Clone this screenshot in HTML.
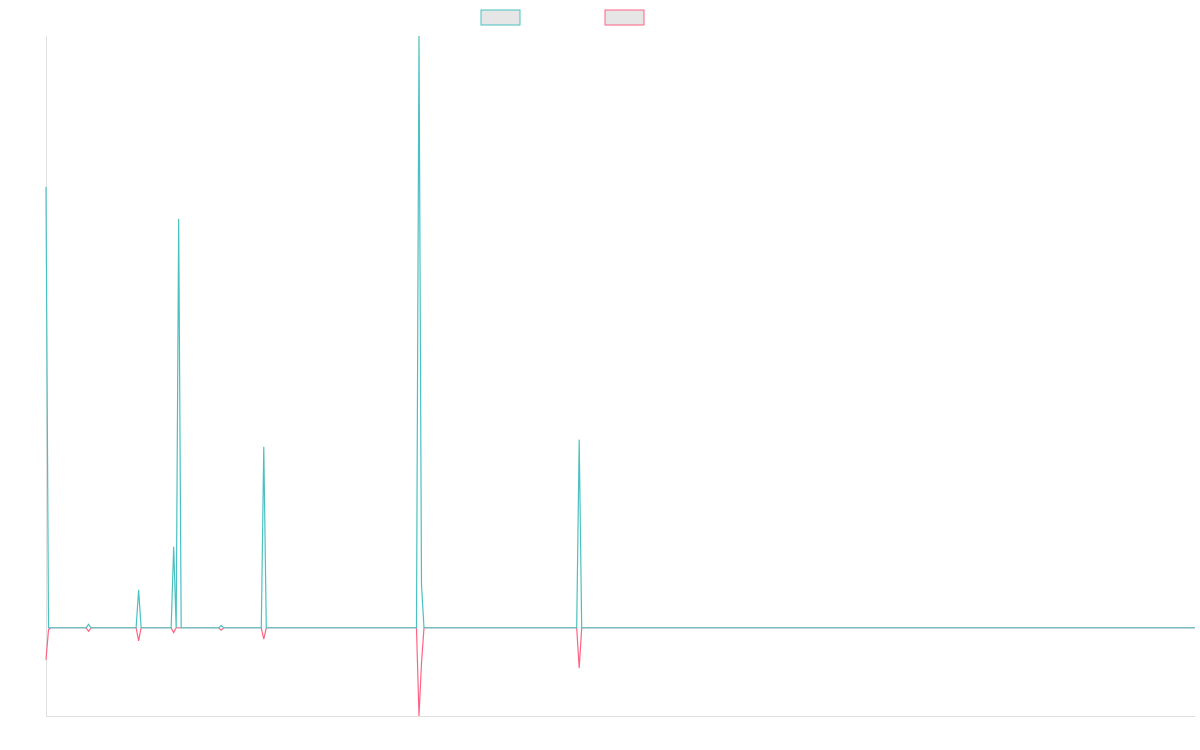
<!DOCTYPE html>
<html><head><meta charset="utf-8"><style>
html,body{margin:0;padding:0;background:#fff;width:1200px;height:750px;overflow:hidden;font-family:"Liberation Sans",sans-serif}
</style></head><body>
<svg id="chart" width="1200" height="750" xmlns="http://www.w3.org/2000/svg">
<rect x="481" y="10" width="39" height="15" fill="#e6e6e6" stroke="rgb(75,192,192)" stroke-width="1"/>
<rect x="605" y="10" width="39" height="15" fill="#e6e6e6" stroke="rgb(255,99,132)" stroke-width="1"/>
<line x1="46.5" y1="36" x2="46.5" y2="716" stroke="#e0e0e0"/>
<line x1="46" y1="716.5" x2="1195" y2="716.5" stroke="#e0e0e0"/>
<g id="series"></g>
</svg>
<script>
const pointCount = 460;
const spikeIndex = [0, 1, 17, 37, 51, 53, 70, 87, 149, 150, 213];
const tealValues = [74.5, 0, 0.6, 6.4, 13.7, 69.1, 0.4, 30.6, 100, 7.3, 31.8];
const pinkValues = [-5.4, -0.3, -0.6, -2.2, -0.8, 0, -0.4, -1.9, -14.9, -6, -6.8];
const yMin = -14.9, yMax = 100;
const x0 = 46, x1 = 1195, yTop = 36, yBot = 716;
function xs(i){ return x0 + i * (x1 - x0) / (pointCount - 1); }
function ys(v){ return yBot - (v - yMin) / (yMax - yMin) * (yBot - yTop); }
function build(vals){
  const arr = new Array(pointCount).fill(0);
  spikeIndex.forEach((idx, k) => { arr[idx] = vals[k]; });
  return arr;
}
const g = document.getElementById('series');
function draw(vals, color, name){
  const arr = build(vals);
  const d = arr.map((v, i) => (i ? 'L' : 'M') + xs(i).toFixed(2) + ' ' + ys(v).toFixed(2)).join(' ');
  const p = document.createElementNS('http://www.w3.org/2000/svg', 'path');
  p.setAttribute('d', d);
  p.setAttribute('fill', 'none');
  p.setAttribute('stroke', color);
  p.setAttribute('stroke-width', '1.2');
  
  
  g.appendChild(p);
}
draw(pinkValues, 'rgb(255,99,132)', 'series-b-line');
draw(tealValues, 'rgb(75,192,192)', 'series-a-line');
</script>
</body></html>
